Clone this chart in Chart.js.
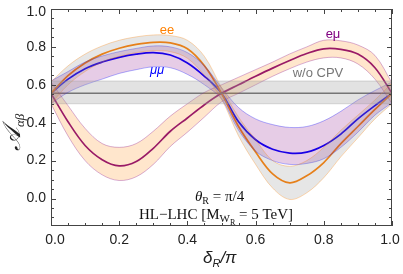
<!DOCTYPE html>
<html>
<head>
<meta charset="utf-8">
<script src="https://cdn.jsdelivr.net/npm/chart.js@4.4.1/dist/chart.umd.min.js"></script>
<style>
  html, body { margin: 0; padding: 0; background: #fff; }
  #wrap { width: 403px; height: 274px; }
</style>
</head>
<body>
<div id="wrap"><canvas id="chart"></canvas></div>
<script>
// delta_R / pi sample points
const deltaR = [0, 0.05, 0.1, 0.15, 0.2, 0.25, 0.3, 0.35, 0.4, 0.45, 0.5, 0.55, 0.6, 0.65, 0.7, 0.75, 0.8, 0.85, 0.9, 0.95, 1];

// ee
const eeCurve = [0.555, 0.648, 0.715, 0.762, 0.793, 0.813, 0.824, 0.821, 0.79, 0.70, 0.555, 0.38, 0.245, 0.13, 0.083, 0.12, 0.19, 0.29, 0.38, 0.47, 0.555];
const eeUpper = [0.615, 0.70, 0.762, 0.805, 0.835, 0.853, 0.863, 0.86, 0.835, 0.75, 0.585, 0.43, 0.31, 0.20, 0.17, 0.20, 0.27, 0.36, 0.44, 0.52, 0.61];
const eeLower = [0.50, 0.60, 0.67, 0.72, 0.75, 0.77, 0.78, 0.775, 0.74, 0.65, 0.525, 0.33, 0.18, 0.055, -0.005, 0.03, 0.11, 0.22, 0.32, 0.42, 0.50];

// mu mu
const mmCurve = [0.555, 0.63, 0.685, 0.72, 0.745, 0.762, 0.77, 0.757, 0.715, 0.645, 0.555, 0.405, 0.31, 0.26, 0.24, 0.245, 0.28, 0.34, 0.42, 0.49, 0.555];
const mmUpper = [0.62, 0.67, 0.72, 0.752, 0.775, 0.792, 0.805, 0.80, 0.77, 0.70, 0.585, 0.48, 0.42, 0.39, 0.375, 0.38, 0.41, 0.46, 0.52, 0.57, 0.615];
const mmLower = [0.50, 0.56, 0.60, 0.63, 0.66, 0.68, 0.695, 0.69, 0.655, 0.60, 0.525, 0.36, 0.25, 0.20, 0.18, 0.185, 0.21, 0.27, 0.35, 0.44, 0.505];

// e mu
const emCurve = [0.555, 0.405, 0.28, 0.205, 0.172, 0.195, 0.265, 0.355, 0.425, 0.495, 0.555, 0.60, 0.645, 0.688, 0.728, 0.765, 0.79, 0.787, 0.762, 0.69, 0.555];
const emUpper = [0.615, 0.49, 0.37, 0.29, 0.27, 0.29, 0.355, 0.435, 0.50, 0.56, 0.60, 0.64, 0.68, 0.72, 0.763, 0.80, 0.835, 0.832, 0.81, 0.755, 0.61];
const emLower = [0.50, 0.33, 0.20, 0.125, 0.095, 0.115, 0.18, 0.275, 0.35, 0.43, 0.51, 0.555, 0.60, 0.645, 0.685, 0.72, 0.742, 0.742, 0.71, 0.63, 0.50];

// without CP violation
const cpvRange = [0, 1];
const cpvValue = [0.555, 0.555];
const cpvUpper = [0.62, 0.62];
const cpvLower = [0.50, 0.50];

const xTicks = [0, 0.2, 0.4, 0.6, 0.8, 1.0];
const yTicks = [0, 0.2, 0.4, 0.6, 0.8, 1.0];

const ORANGE = "rgb(255,128,0)";
const BLUE = "rgb(0,0,255)";
const PURPLE = "rgb(128,0,128)";
const SANS = '"Liberation Sans", Arial, sans-serif';
const SERIF = '"Liberation Serif", "Times New Roman", serif';
const TENSION = 0.35;

function pts(xs, ys) {
    return ys.map((y, i) => ({ x: xs[i], y: y }));
}

function band(xs, lo, hi, fill, edge) {
    return [
        { data: pts(xs, lo), borderColor: edge, borderWidth: 1, pointRadius: 0, fill: false, tension: TENSION },
        { data: pts(xs, hi), borderColor: edge, borderWidth: 1, pointRadius: 0, fill: "-1", backgroundColor: fill, tension: TENSION }
    ];
}

function line(xs, ys, color, width) {
    return { data: pts(xs, ys), borderColor: color, borderWidth: width, pointRadius: 0, fill: false, tension: TENSION };
}

const datasets = [
    ...band(cpvRange, cpvLower, cpvUpper, "rgba(160,160,160,0.3)", "rgba(150,150,150,0.35)"),
    ...band(deltaR, eeLower, eeUpper, "rgba(130,130,130,0.2)", "rgba(255,128,0,0.3)"),
    ...band(deltaR, emLower, emUpper, "rgba(255,128,0,0.2)", "rgba(128,0,128,0.3)"),
    ...band(deltaR, mmLower, mmUpper, "rgba(128,0,128,0.2)", "rgba(0,0,255,0.3)"),
    line(cpvRange, cpvValue, "rgb(100,100,100)", 1.5),
    line(deltaR, emCurve, PURPLE, 1.7),
    line(deltaR, eeCurve, ORANGE, 1.7),
    line(deltaR, mmCurve, BLUE, 1.7)
];

// frame, inward ticks, tick labels and annotations
const decor = {
    id: "decor",
    afterDraw(chart) {
        const ctx = chart.ctx;
        const a = chart.chartArea;
        const xs = chart.scales.x, ys = chart.scales.y;
        ctx.save();
        ctx.strokeStyle = "#444";
        ctx.lineWidth = 1;
        ctx.strokeRect(a.left + 0.5, a.top + 0.5, a.right - a.left - 1, a.bottom - a.top - 1);

        ctx.beginPath();
        for (let i = 0; i <= 20; i++) {
            const len = i % 4 === 0 ? 5 : 3;
            const px = Math.round(xs.getPixelForValue(i * 0.05)) + 0.5;
            ctx.moveTo(px, a.bottom); ctx.lineTo(px, a.bottom - len);
            ctx.moveTo(px, a.top); ctx.lineTo(px, a.top + len);
        }
        for (let i = -2; i <= 20; i++) {
            const len = i % 4 === 0 ? 5 : 3;
            const py = Math.round(ys.getPixelForValue(i * 0.05)) + 0.5;
            ctx.moveTo(a.left, py); ctx.lineTo(a.left + len, py);
            ctx.moveTo(a.right, py); ctx.lineTo(a.right - len, py);
        }
        ctx.stroke();

        // tick labels
        ctx.fillStyle = "#222";
        ctx.font = "14px " + SANS;
        ctx.textBaseline = "middle";
        ctx.textAlign = "right";
        yTicks.forEach(v => {
            let py = ys.getPixelForValue(v);
            if (v === 1) py += 3;
            ctx.fillText(v.toFixed(1), a.left - 5, py);
        });
        ctx.textAlign = "center";
        xTicks.forEach(v => {
            let px = xs.getPixelForValue(v);
            if (v === 0) px += 4;
            if (v === 1) px -= 2;
            ctx.fillText(v.toFixed(1), px, 240);
        });

        // curve labels
        ctx.font = "13px " + SANS;
        ctx.fillStyle = ORANGE;
        ctx.fillText("ee", 167, 30);
        ctx.fillStyle = PURPLE;
        ctx.fillText("e\u03bc", 333, 34);
        ctx.fillStyle = "#777";
        ctx.fillText("w/o CPV", 318, 73);
        ctx.fillStyle = BLUE;
        ctx.font = "italic 13px " + SANS;
        ctx.fillText("\u03bc\u03bc", 157, 70);

        // serif annotations
        ctx.fillStyle = "#111";
        ctx.textAlign = "left";
        ctx.textBaseline = "alphabetic";
        ctx.font = "italic 15px " + SERIF;
        let x = 195;
        ctx.fillText("\u03b8", x, 201);
        x += ctx.measureText("\u03b8").width;
        ctx.font = "10px " + SERIF;
        ctx.fillText("R", x, 204);
        x += ctx.measureText("R").width;
        ctx.font = "15px " + SERIF;
        ctx.fillText(" = \u03c0/4", x, 201);

        x = 139;
        ctx.fillText("HL\u2212LHC [M", x, 219);
        x += ctx.measureText("HL\u2212LHC [M").width;
        ctx.font = "11px " + SERIF;
        ctx.fillText("W", x, 222);
        const wW = ctx.measureText("W").width;
        ctx.font = "8px " + SERIF;
        ctx.fillText("R", x + wW, 225);
        x += wW + ctx.measureText("R").width;
        ctx.font = "15px " + SERIF;
        ctx.fillText(" = 5 TeV]", x, 219);

        // axis titles
        ctx.fillStyle = "#222";
        ctx.font = "italic 17px " + SANS;
        x = 203;
        ctx.fillText("\u03b4", x, 263);
        x += ctx.measureText("\u03b4").width;
        ctx.font = "italic 11px " + SANS;
        ctx.fillText("R", x, 267);
        x += ctx.measureText("R").width;
        ctx.font = "italic 17px " + SANS;
        ctx.fillText("/\u03c0", x, 263);

        ctx.translate(20, 151);
        ctx.rotate(-Math.PI / 2);
        ctx.font = "italic 25px " + SERIF;
        ctx.fillText("\ud835\udc9c", 0, 0);
        const aw = ctx.measureText("\ud835\udc9c").width;
        ctx.font = "italic 13px " + SERIF;
        ctx.fillText("\u03b1\u03b2", aw, 4);
        ctx.restore();
    }
};

new Chart(document.getElementById("chart"), {
    type: "line",
    data: { datasets: datasets },
    options: {
        responsive: true,
        maintainAspectRatio: false,
        animation: false,
        layout: { padding: { top: 9, right: 11, left: 0, bottom: 0 } },
        plugins: { legend: { display: false }, tooltip: { enabled: false } },
        scales: {
            x: {
                type: "linear", min: 0, max: 1,
                afterFit: (s) => { s.height = 48; },
                grid: { display: false, drawTicks: false },
                border: { display: false },
                ticks: { display: false }
            },
            y: {
                type: "linear", min: -0.145, max: 1.0,
                afterFit: (s) => { s.width = 51; },
                grid: { display: false, drawTicks: false },
                border: { display: false },
                ticks: { display: false }
            }
        }
    },
    plugins: [decor]
});
</script>
</body>
</html>
